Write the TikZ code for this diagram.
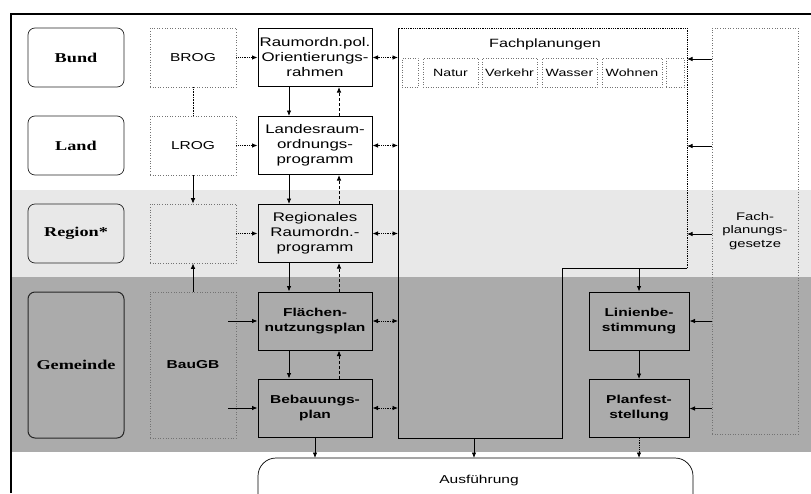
\documentclass[tikz,border=0pt]{standalone}
\usepackage{fontspec}
\setmainfont{Liberation Serif}[FakeStretch=1.35]
\newfontfamily\ar{Liberation Sans}[FakeStretch=1.35]
\usetikzlibrary{arrows.meta,calc}
\begin{document}
\begin{tikzpicture}[x=1pt,y=-1pt,
  >={Latex[length=5.5pt,width=4.5pt]},
  lbox/.style={draw=black!85, line width=0.7pt, rounded corners=7pt, minimum width=96pt, minimum height=59pt, inner sep=0pt, font=\fontsize{13.5}{15}\selectfont\bfseries},
  dbox/.style={draw=black!55, dotted, line width=0.6pt, minimum width=86pt, minimum height=59pt, inner sep=0pt, align=center, font=\ar\fontsize{11.5}{14}\selectfont},
  pbox/.style={draw=black, line width=1pt, minimum width=114pt, minimum height=58pt, inner sep=0pt, align=center, font=\ar\fontsize{12.5}{15}\selectfont},
  pboxd/.style={pbox, font=\ar\bfseries\fontsize{11.5}{15}\selectfont},
  sbox/.style={draw=black!55, dotted, line width=0.5pt, minimum height=29pt, inner sep=0pt, font=\ar\fontsize{10.5}{12}\selectfont},
  conn/.style={line width=0.8pt, ->},
  upconn/.style={line width=0.8pt, densely dashed, ->},
  harr/.style={line width=0.8pt, densely dotted, ->},
  dbl/.style={line width=0.8pt, densely dotted, <->}
]
\useasboundingbox (0,0) rectangle (811,493);
% background bands
\fill[black!9] (11,190) rectangle (811,277);
\fill[black!33] (11,277) rectangle (811,452);
% frame
\draw[line width=1.3pt] (11,493) -- (11,14) -- (811,14);

% left column
\node[lbox] (bund) at (76,57.5) {Bund};
\node[lbox] (land) at (76,145.5) {Land};
\node[lbox] (region) at (76,233.5) {Region*};
\node[lbox, minimum height=146pt, line width=1pt] (gem) at (76,365) {Gemeinde};

% second column
\node[dbox] (brog) at (193,57.5) {BROG};
\node[dbox] (lrog) at (193,145.5) {LROG};
\node[dbox] (rleer) at (193,233.5) {};
\node[dbox, minimum height=146pt, font=\ar\bfseries\fontsize{11.5}{14}\selectfont] (baugb) at (193,365) {BauGB};

% third column
\node[pbox] (rop) at (315,57.5) {Raumordn.pol.\\Orientierungs-\\rahmen};
\node[pbox] (lrp) at (315,145.5) {Landesraum-\\ordnungs-\\programm};
\node[pbox] (rrp) at (315,233.5) {Regionales\\Raumordn.-\\programm};
\node[pboxd] (fnp) at (315,321) {Flächen-\\nutzungsplan};
\node[pboxd] (bplan) at (315,408) {Bebauungs-\\plan};

% right column
\node[pboxd, minimum width=100pt] (lin) at (639,321) {Linienbe-\\stimmung};
\node[pboxd, minimum width=100pt] (pfs) at (639,408.5) {Planfest-\\stellung};

% Fachplanungsgesetze
\node[draw=black!55, dotted, line width=0.6pt, minimum width=86pt, minimum height=406pt, inner sep=0pt, align=center, font=\ar\fontsize{11}{13.5}\selectfont] (fpg) at (755,231) {Fach-\\planungs-\\gesetze};

% Fachplanungen shape
\coordinate (fA) at (398,28);
\coordinate (fB) at (687,28);
\coordinate (fC) at (687,268);
\coordinate (fD) at (562,268);
\coordinate (fE) at (562,438);
\coordinate (fF) at (398,438);
\coordinate (fpS) at (474,438);
\draw[line width=0.9pt] (fA) -- (fF) -- (fE) -- (fD) -- (fC);
\draw[line width=0.8pt, densely dotted] (fC) -- (fB) -- (fA);
\node[font=\ar\fontsize{12}{14}\selectfont] (fptitle) at (545,44) {Fachplanungen};
\node[sbox, minimum width=16pt] (sx1) at (410,72.5) {};
\node[sbox, minimum width=55pt] (natur) at (450.5,72.5) {Natur};
\node[sbox, minimum width=55pt] (verk) at (509.5,72.5) {Verkehr};
\node[sbox, minimum width=55pt] (wass) at (569.5,72.5) {Wasser};
\node[sbox, minimum width=60pt] (wohn) at (632,72.5) {Wohnen};
\node[sbox, minimum width=18pt] (sx2) at (675,72.5) {};

% Ausfuehrung
\begin{scope}
\clip (0,0) rectangle (811,493);
\draw[line width=0.7pt, rounded corners=18pt] (258,515) -- (258,458) -- (693,458) -- (693,515);
\end{scope}
\coordinate (ausTop) at (0,458);
\node[font=\ar\fontsize{11.5}{13}\selectfont] (ausf) at (479,481) {Ausführung};

% column 2 verticals
\draw[line width=0.6pt, densely dotted] (brog.south) -- (lrog.north);
\draw[conn] (lrog.south) -- (rleer.north);
\draw[conn] (baugb.north) -- (rleer.south);

% horizontals into column 3
\draw[harr] (brog.east) -- (rop.west);
\draw[harr] (lrog.east) -- (lrp.west);
\draw[harr] (rleer.east) -- (rrp.west);
\coordinate (bg1) at (228,321);
\coordinate (bg2) at (228,408);
\draw[conn] (bg1) -- (fnp.west);
\draw[conn] (bg2) -- (bplan.west);

% double arrows to Fachplanungen
\draw[dbl] (rop.east) -- (rop.east -| fA);
\draw[dbl] (lrp.east) -- (lrp.east -| fA);
\draw[dbl] (rrp.east) -- (rrp.east -| fA);
\draw[dbl] (fnp.east) -- (fnp.east -| fA);
\draw[dbl] (bplan.east) -- (bplan.east -| fA);

% column 3 verticals
\coordinate (xd) at (289,0);
\coordinate (xu) at (339,0);
\draw[conn] (rop.south -| xd) -- (lrp.north -| xd);
\draw[upconn] (lrp.north -| xu) -- (rop.south -| xu);
\draw[conn] (lrp.south -| xd) -- (rrp.north -| xd);
\draw[upconn] (rrp.north -| xu) -- (lrp.south -| xu);
\draw[conn] (rrp.south -| xd) -- (fnp.north -| xd);
\draw[upconn] (fnp.north -| xu) -- (rrp.south -| xu);
\draw[conn] (fnp.south -| xd) -- (bplan.north -| xd);
\draw[upconn] (bplan.north -| xu) -- (fnp.south -| xu);

% Fachplanungsgesetze arrows
\coordinate (g1) at (712,59);
\coordinate (g2) at (712,146);
\coordinate (g3) at (712,234);
\draw[conn] (g1) -- (g1 -| fC);
\draw[conn] (g2) -- (g2 -| fC);
\draw[conn] (g3) -- (g3 -| fC);
\draw[conn] (lin.east -| fpg.west) -- (lin.east);
\draw[conn] (pfs.east -| fpg.west) -- (pfs.east);

% right column flow
\draw[conn] (lin.north |- fC) -- (lin.north);
\draw[conn] (lin.south) -- (pfs.north);

% to Ausfuehrung
\draw[conn] (bplan.south) -- (bplan.south |- ausTop);
\draw[conn] (fpS) -- (fpS |- ausTop);
\draw[line width=0.8pt, densely dotted, ->] (pfs.south) -- (pfs.south |- ausTop);
\end{tikzpicture}
\end{document}
